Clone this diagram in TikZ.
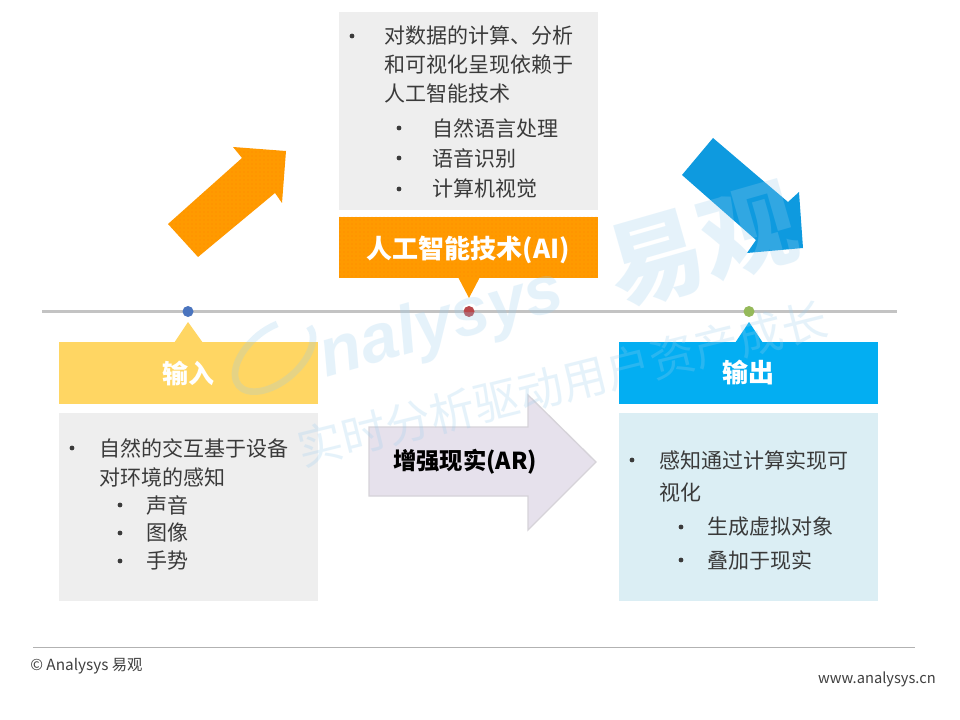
\documentclass[tikz,border=0pt]{standalone}
\usepackage{fontspec}
\setmainfont{Noto Sans CJK SC}
\newfontfamily\wmlatin{Liberation Sans}
\usetikzlibrary{patterns.meta}
\definecolor{aiorange}{HTML}{FF9A00}
\definecolor{arrblue}{HTML}{0E9ADF}
\definecolor{inyellow}{HTML}{FFD663}
\definecolor{outblue}{HTML}{03AEF2}
\definecolor{boxgray}{HTML}{EEEEEE}
\definecolor{boxblue}{HTML}{DBEEF4}
\definecolor{linegray}{HTML}{C3C3C3}
\definecolor{arlav}{HTML}{E6E1EC}
\definecolor{arbord}{HTML}{D6D3D9}
\definecolor{txtgray}{HTML}{3A3A3A}
\definecolor{dotblue}{HTML}{4A74BE}
\definecolor{dotred}{HTML}{B9474A}
\definecolor{dotgreen}{HTML}{95B95A}
\definecolor{wmblue}{HTML}{9BCEEE}
\definecolor{foot}{HTML}{404040}
\begin{document}
\begin{tikzpicture}[x=0.75pt,y=-0.75pt,
  body/.style={anchor=west, inner sep=0pt, text=txtgray, font=\fontsize{15.75}{18}\selectfont},
  bul/.style={circle, fill=txtgray, inner sep=0pt, minimum size=3.6pt},
  panel/.style={inner sep=0pt, outer sep=0pt, minimum width=194.25pt},
  labelbox/.style={panel, minimum height=46.5pt, text=white, font=\bfseries\fontsize{19.5}{22}\selectfont},
  contentbox/.style={panel, minimum height=141pt},
  dotpat/.style={pattern={Dots[radius=0.3pt,distance=3pt]}, pattern color=red!80!orange, opacity=0.45},
  tldot/.style={circle, inner sep=0pt, minimum size=8.25pt},
  wm/.style={text=wmblue, opacity=0.25, inner sep=0pt}]
\useasboundingbox (0,0) rectangle (960,720);
\fill[white] (0,0) rectangle (960,720);

% ---- top AI description panel
\node[panel, fill=boxgray, minimum height=148.5pt] (topbox) at (468.5,111) {};
\node[bul] (tb1) at (352,36) {};
\node[body] (tt1) at (384,36) {对数据的计算、分析};
\node[body] (tt2) at (384,65) {和可视化呈现依赖于};
\node[body] (tt3) at (384,94) {人工智能技术};
\node[bul] (tb2) at (399,128) {};
\node[body] (tt4) at (432,128) {自然语言处理};
\node[bul] (tb3) at (399,158) {};
\node[body] (tt5) at (432,158) {语音识别};
\node[bul] (tb4) at (399,189) {};
\node[body] (tt6) at (432,189) {计算机视觉};

% ---- AI label
\fill[aiorange] (458,277) -- (469,298) -- (480,277) -- cycle;
\node[labelbox, fill=aiorange, minimum height=45.75pt] (aibox) at (468.5,247.5) {};
\fill[dotpat] (339,217) rectangle (598,278);
\node[inner sep=0pt, text=white, font=\bfseries\fontsize{19.5}{22}\selectfont] (ailabel) at (468.5,250) {人工智能技术(AI)};

% ---- diagonal arrows
\fill[aiorange] (168,224) -- (242,158) -- (233,147) -- (286,151) -- (282,203) -- (275,193) -- (198,257) -- cycle;
\fill[dotpat] (168,224) -- (242,158) -- (233,147) -- (286,151) -- (282,203) -- (275,193) -- (198,257) -- cycle;
\fill[arrblue] (713,138) -- (788,202) -- (799,192) -- (803,248) -- (747,253) -- (756,240) -- (682,175) -- cycle;

% ---- timeline
\coordinate (tlL) at (42,311.5);
\coordinate (tlR) at (897,311.5);
\draw[linegray, line width=2.6pt] (tlL) -- (tlR);
\node[tldot, fill=dotblue] (d1) at (188,311.5) {};
\node[tldot, fill=dotred] (d2) at (469,311.5) {};
\node[tldot, fill=dotgreen] (d3) at (749,311.5) {};

% ---- input / output labels
\fill[inyellow] (174,343) -- (188,322) -- (203,343) -- cycle;
\node[labelbox, fill=inyellow] (inbox) at (188.5,373) {输入};
\fill[outblue] (735,343) -- (749,322) -- (763,343) -- cycle;
\node[labelbox, fill=outblue] (outbox) at (748.5,373) {输出};

% ---- content panels
\node[contentbox, fill=boxgray] (incontent) at (188.5,507) {};
\node[bul] (ib1) at (72,448) {};
\node[body] (it1) at (99,448) {自然的交互基于设备};
\node[body] (it2) at (99,477) {对环境的感知};
\node[bul] (ib2) at (120,505) {};
\node[body] (it3) at (146,505) {声音};
\node[bul] (ib3) at (120,533) {};
\node[body] (it4) at (146,533) {图像};
\node[bul] (ib4) at (120,561) {};
\node[body] (it5) at (146,561) {手势};

\node[contentbox, fill=boxblue] (outcontent) at (748.5,507) {};
\node[bul] (ob1) at (632,460) {};
\node[body] (ot1) at (659,460) {感知通过计算实现可};
\node[body] (ot2) at (659,493) {视化};
\node[bul] (ob2) at (681,527) {};
\node[body] (ot3) at (707,527) {生成虚拟对象};
\node[bul] (ob3) at (681,560) {};
\node[body] (ot4) at (707,560) {叠加于现实};

% ---- AR arrow
\filldraw[fill=arlav, draw=arbord, line width=1pt] (369,427) -- (528,427) -- (528,395) -- (596,462) -- (528,530) -- (528,496) -- (369,496) -- cycle;
\node[inner sep=0pt, text=black, font=\bfseries\fontsize{17.5}{20}\selectfont] (arlabel) at (465,462) {增强现实(AR)};

% ---- watermark
\draw[wmblue, opacity=0.25, line width=5pt, shift={(274,356)}, rotate=40] (0:46) arc[start angle=0, end angle=300, x radius=46, y radius=26];
\node[wm, rotate=16, font=\wmlatin\bfseries\itshape\fontsize{51}{55}\selectfont] (wm1) at (442,326) {nalysys};
\node[wm, rotate=16, font=\bfseries\fontsize{72}{76}\selectfont] (wm2) at (702,246) {易观};
\node[wm, rotate=14, font=\fontsize{34}{38}\selectfont] (wm3) at (562,384) {实时分析驱动用户资产成长};

% ---- footer
\coordinate (fL) at (33,647);
\coordinate (fR) at (915,647);
\draw[gray!60, line width=0.6pt] (fL) -- (fR);
\node[anchor=west, inner sep=0pt, text=foot, font=\fontsize{11.5}{13}\selectfont] (copy) at (30,666) {© Analysys 易观};
\node[anchor=east, inner sep=0pt, text=foot, font=\fontsize{11}{13}\selectfont] (url) at (936,679) {www.analysys.cn};
\end{tikzpicture}
\end{document}
